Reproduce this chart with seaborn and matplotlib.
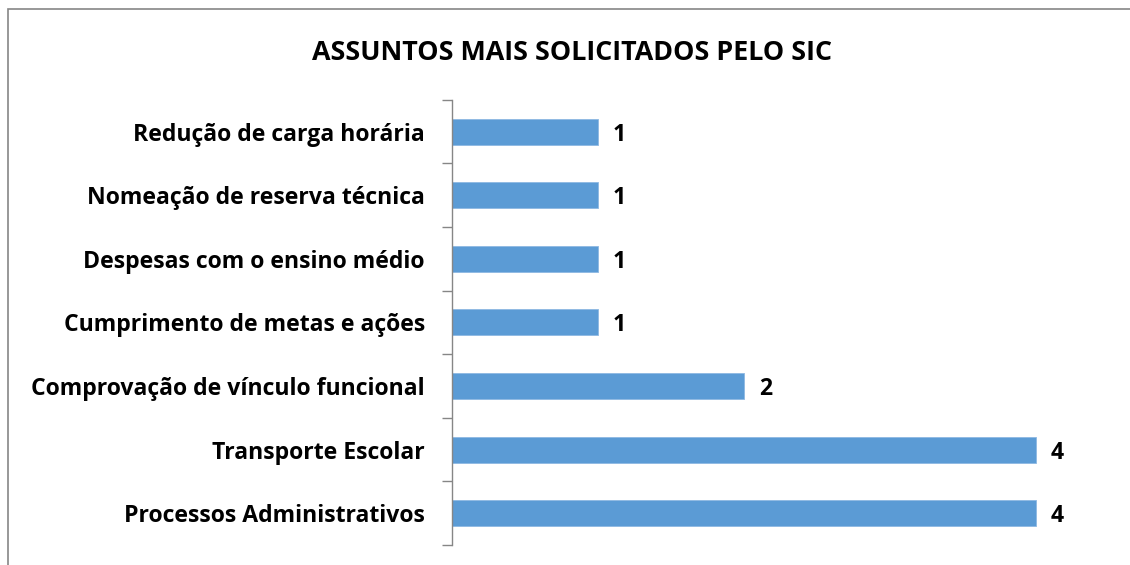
import matplotlib
matplotlib.use('Agg')
import matplotlib.pyplot as plt
import seaborn as sns
import pandas as pd
from matplotlib.patches import Rectangle

# data (top to bottom)
assuntos = [
    'Redução de carga horária',
    'Nomeação de reserva técnica',
    'Despesas com o ensino médio',
    'Cumprimento de metas e ações',
    'Comprovação de vínculo funcional',
    'Transporte Escolar',
    'Processos Administrativos',
]
quantidade = [1, 1, 1, 1, 2, 4, 4]

df = pd.DataFrame({'Assunto': assuntos, 'Quantidade': quantidade})

sns.set_style('white')
plt.rcParams['font.family'] = ['Open Sans', 'DejaVu Sans']
plt.rcParams['text.color'] = 'black'
plt.rcParams['ytick.labelcolor'] = 'black'

fig = plt.figure(figsize=(11.3, 5.65), dpi=100)
ax = fig.add_axes([0.4, 0.0354, 0.574, 0.788])

sns.barplot(data=df, x='Quantidade', y='Assunto', color='#5B9BD5',
            saturation=1, width=0.41, edgecolor='#8DB8E2', linewidth=0.6, ax=ax)

ax.set_xlim(0, 4.44)
ax.set_ylim(len(assuntos) - 0.5, -0.5)
ax.set_xlabel('')
ax.set_ylabel('')
ax.set_xticks([])

for s in ['top', 'right', 'bottom']:
    ax.spines[s].set_visible(False)
ax.spines['left'].set_color('#868686')
ax.spines['left'].set_linewidth(1)

ax.set_yticks(range(len(assuntos)))
ax.set_yticklabels(assuntos, fontsize=16.6, fontweight='bold', color='black')
ax.tick_params(axis='y', which='major', length=0, pad=19.5)
ax.set_yticks([i - 0.5 for i in range(len(assuntos) + 1)], minor=True)
ax.tick_params(axis='y', which='minor', length=7, color='#868686', width=1, left=True)

# value labels next to each bar
for i, v in enumerate(quantidade):
    ax.text(v + 0.1, i, str(v), va='center_baseline', ha='left', fontsize=16.6,
            fontweight='bold', color='black')

fig.text(0.506, 0.907, 'ASSUNTOS MAIS SOLICITADOS PELO SIC', ha='center', va='center',
         fontsize=19.4, fontweight='bold', color='black')

# outer chart border
fig.patches.append(Rectangle((8 / 1130, -0.1), 1.2, 0.1 + (565 - 9) / 565,
                             transform=fig.transFigure, fill=False,
                             edgecolor='#868686', linewidth=1.2))

fig.savefig('out.png', dpi=100)
